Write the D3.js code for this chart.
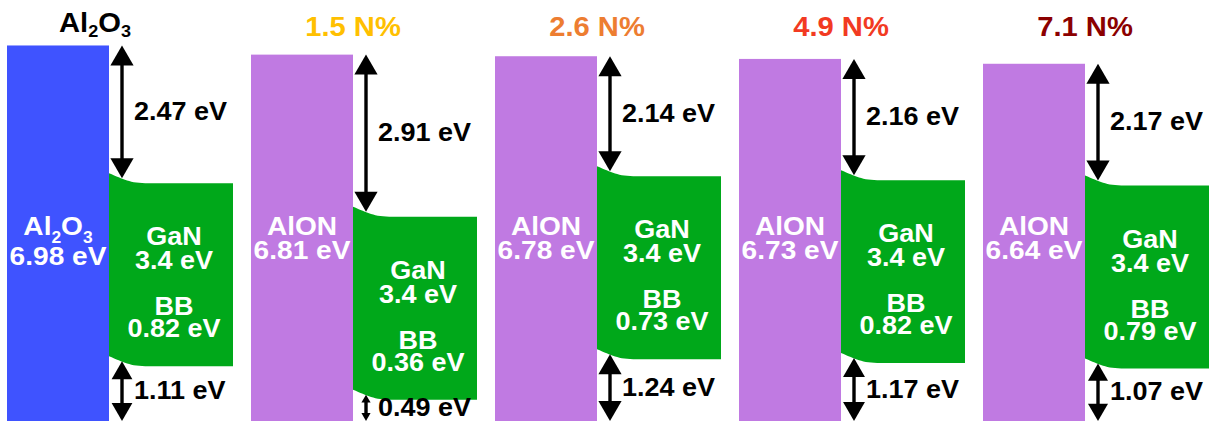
<!DOCTYPE html>
<html><head><meta charset="utf-8">
<script src="https://cdn.jsdelivr.net/npm/d3@7"></script>
<style>body{margin:0;background:#fff}svg{display:block}</style></head>
<body><svg id="c" width="1210" height="423"></svg>
<script>
// ---- data ----
const panels = ["Al2O3", "1.5 N%", "2.6 N%", "4.9 N%", "7.1 N%"];
const dielectricNames = ["Al2O3", "AlON", "AlON", "AlON", "AlON"];
const dielectricGap = [6.98, 6.81, 6.78, 6.73, 6.64];   // eV
const cbOffset = [2.47, 2.91, 2.14, 2.16, 2.17];        // eV
const vbOffset = [1.11, 0.49, 1.24, 1.17, 1.07];        // eV
const ganGap = [3.4, 3.4, 3.4, 3.4, 3.4];               // eV
const bandBending = [0.82, 0.36, 0.73, 0.82, 0.79];     // eV

// ---- styles ----
const titleColors = ["#000000", "#FFC000", "#ED7D31", "#F23A22", "#8B0000"];
const dielectricColors = ["#3F53FF", "#C07AE2", "#C07AE2", "#C07AE2", "#C07AE2"];
const ganColor = "#00A81A";
const FONT = "'Liberation Sans', Arial, Helvetica, sans-serif";
const SX = 1.08;

const svg = d3.select("#c");
const x = d3.scaleBand().domain(panels).range([7, 7 + 5 * 244]);
const y = d3.scaleLinear().domain([0, 7]).range([421, 44.4]);
const barW = 102, ganW = 124;

function addText(g, px, py, str, size, fill, anchor, subDy) {
  const t = g.append("text")
    .attr("transform", `translate(${px},${py}) scale(${SX},1)`)
    .attr("text-anchor", anchor || "middle")
    .attr("font-family", FONT).attr("font-weight", "bold")
    .attr("font-size", size).attr("fill", fill);
  if (!/[A-Za-z]\d/.test(str)) { t.text(str); return t; }
  // digits right after a letter become subscripts
  const parts = str.match(/[A-Za-z]\d+|[^A-Za-z]+|[A-Za-z]/g) || [str];
  let shifted = false;
  const sd = subDy || 0.25;
  parts.forEach(p => {
    const m = p.match(/^([A-Za-z])(\d+)$/);
    if (m) {
      const a = t.append("tspan").text(m[1]);
      if (shifted) { a.attr("dy", (-sd * size) + "px"); shifted = false; }
      t.append("tspan").text(m[2]).attr("font-size", size * 0.62)
        .attr("dy", (sd * size) + "px");
      shifted = true;
    } else {
      const a = t.append("tspan").text(p);
      if (shifted) { a.attr("dy", (-sd * size) + "px"); shifted = false; }
    }
  });
  return t;
}

function arrow(g, ax, y1, y2) {
  const len = y2 - y1;
  const h = Math.min(20, len * 0.3), w = h * 0.58;
  g.append("line").attr("x1", ax).attr("x2", ax)
    .attr("y1", y1 + h * 0.6).attr("y2", y2 - h * 0.6)
    .attr("stroke", "#000").attr("stroke-width", 3.4);
  g.append("path").attr("d", `M${ax},${y1} L${ax - w},${y1 + h} L${ax + w},${y1 + h} Z`).attr("fill", "#000");
  g.append("path").attr("d", `M${ax},${y2} L${ax - w},${y2 - h} L${ax + w},${y2 - h} Z`).attr("fill", "#000");
}

const drop = 10;
function bandPath(x0, x1, yc, yv) {
  const tI = yc - drop / 2, tF = yc + drop / 2;
  const bI = yv - drop / 2, bF = yv + drop / 2;
  return `M${x0},${tI} C${x0 + 15},${tI + 6} ${x0 + 20},${tF} ${x0 + 40},${tF}` +
    ` L${x1},${tF} L${x1},${bF} L${x0 + 40},${bF}` +
    ` C${x0 + 20},${bF} ${x0 + 15},${bI + 6} ${x0},${bI} Z`;
}

panels.forEach((p, i) => {
  const g = svg.append("g");
  const x0 = x(p);
  const xr = x0 + barW;
  const yTop = y(dielectricGap[i]);
  const yBot = y(0);
  const yVB = y(vbOffset[i]);
  const yCB = y(vbOffset[i] + ganGap[i]);

  // dielectric bar
  g.append("rect").attr("x", x0).attr("y", yTop).attr("width", barW)
    .attr("height", yBot - yTop).attr("fill", dielectricColors[i]);
  // GaN band with band bending
  g.append("path").attr("d", bandPath(xr, xr + ganW, yCB, yVB)).attr("fill", ganColor);

  // title
  addText(g, xr + (i === 0 ? -14 : 0), i === 0 ? 32 : 36, p, 27, titleColors[i], "middle", 0.2);

  // dielectric labels
  const cx = x0 + barW / 2;
  addText(g, cx, 235, dielectricNames[i], 26, "#fff", "middle", 0.3);
  addText(g, cx, /\d/.test(dielectricNames[i]) ? 265 : 259, dielectricGap[i].toFixed(2) + " eV", 26, "#fff");

  // GaN labels
  const gx = xr + 65;
  addText(g, gx, yCB + 67, "GaN", 25, "#fff");
  addText(g, gx, yCB + 91, ganGap[i] + " eV", 25, "#fff");
  addText(g, gx, yCB + 137, "BB", 25, "#fff");
  addText(g, gx, yCB + 159, bandBending[i].toFixed(2) + " eV", 25, "#fff");

  // offset arrows
  const ax = xr + 13;
  arrow(g, ax, yTop, yCB);
  arrow(g, ax, yVB, yBot);
  addText(g, xr + 25, (yTop + yCB) / 2 + 8, cbOffset[i].toFixed(2) + " eV", 25, "#000", "start");
  addText(g, xr + 25, (yVB + yBot) / 2 + 8, vbOffset[i].toFixed(2) + " eV", 25, "#000", "start");
});
</script>
</body></html>
